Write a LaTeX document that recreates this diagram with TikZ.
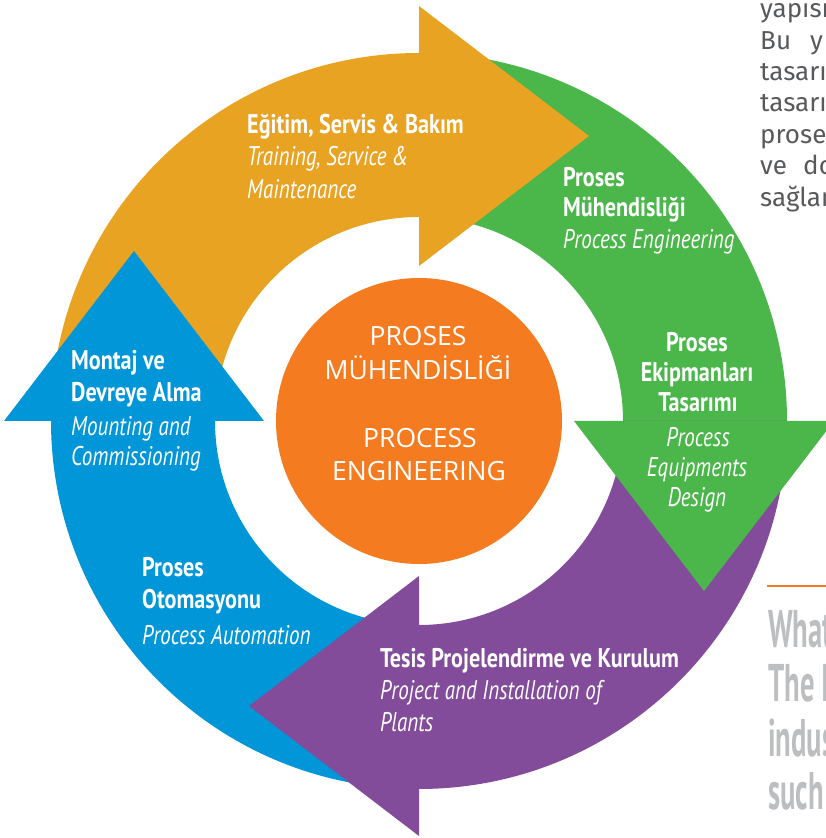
\documentclass[tikz,border=0pt]{standalone}
\usepackage{fontspec}
\usetikzlibrary{calc}
\newfontfamily\boldfont[FakeStretch=0.82]{PT Sans}
\newfontfamily\itfont[FakeStretch=0.78]{PT Sans}
\newfontfamily\ctrfont{Open Sans}
\newfontfamily\parafont{Fira Sans}
\newfontfamily\bigfont[FakeStretch=0.54]{PT Sans}
\definecolor{arrOrange}{RGB}{233,163,35}
\definecolor{arrGreen}{RGB}{75,182,74}
\definecolor{arrPurple}{RGB}{130,76,155}
\definecolor{arrBlue}{RGB}{0,150,216}
\definecolor{hubOrange}{RGB}{244,123,32}
\definecolor{paraGray}{RGB}{88,89,91}
\definecolor{bigGray}{RGB}{189,190,192}
\tikzset{
  boldlbl/.style={text=white, inner sep=0pt, font=\boldfont\bfseries\fontsize{27}{32}\selectfont},
  itlbl/.style={text=white, inner sep=0pt, font=\itfont\itshape\fontsize{27}{32}\selectfont},
  ctrlbl/.style={text=white, inner sep=0pt, anchor=base, font=\ctrfont\fontsize{26.5}{32}\selectfont},
  paralbl/.style={text=paraGray, inner sep=0pt, anchor=base west, font=\parafont\fontsize{26}{32}\selectfont},
  biglbl/.style={text=bigGray, inner sep=0pt, anchor=base west, font=\bigfont\bfseries\fontsize{53}{54}\selectfont},
}
\begin{document}
\begin{tikzpicture}[x=1pt,y=1pt]
\useasboundingbox (0,0) rectangle (826,838);
\clip (0,0) rectangle (826,838);
\coordinate (C) at (419,417);
% shafts
\fill[arrOrange, shift={(C)}] (180:368) arc[start angle=180,end angle=90,radius=368] -- (90:204) arc[start angle=90,end angle=180,radius=204] -- cycle;
\fill[arrGreen, shift={(C)}] (90:368) arc[start angle=90,end angle=0,radius=368] -- (0:204) arc[start angle=0,end angle=90,radius=204] -- cycle;
\fill[arrPurple, shift={(C)}] (0:368) arc[start angle=0,end angle=-90,radius=368] -- (-90:204) arc[start angle=-90,end angle=0,radius=204] -- cycle;
\fill[arrBlue, shift={(C)}] (-90:368) arc[start angle=-90,end angle=-180,radius=368] -- (-180:204) arc[start angle=-180,end angle=-90,radius=204] -- cycle;
% heads
\fill[arrOrange, shift={(C)}] (90:155) -- (90:415) -- (170,285) -- cycle;
\fill[arrGreen, shift={(C)}] (0:155) -- (0:415) -- (285,-170) -- cycle;
\fill[arrPurple, shift={(C)}] (-90:155) -- (-90:415) -- (-170,-285) -- cycle;
\fill[arrBlue, shift={(C)}] (180:155) -- (180:415) -- (-285,170) -- cycle;
% hub
\fill[hubOrange] (C) circle[radius=143];
\node[ctrlbl] (c1) at (418,492) {PROSES};
\node[ctrlbl] (c2) at (418,458) {MÜHENDİSLİĞİ};
\node[ctrlbl] (c3) at (420,390) {PROCESS};
\node[ctrlbl] (c4) at (419,357) {ENGINEERING};
% orange labels
\node[boldlbl, anchor=base west] (o1) at (247,704) {Eğitim, Servis \& Bakım};
\node[itlbl, anchor=base west] (o2) at (247,672) {Training, Service \&};
\node[itlbl, anchor=base west] (o3) at (247,639) {Maintenance};
% green upper
\node[boldlbl, anchor=base west] (g1) at (563,651) {Proses};
\node[boldlbl, anchor=base west] (g2) at (563,621) {Mühendisliği};
\node[itlbl, anchor=base west] (g3) at (563,589) {Process Engineering};
% green lower
\node[boldlbl, anchor=base] (h1) at (697,486) {Proses};
\node[boldlbl, anchor=base] (h2) at (697,456) {Ekipmanları};
\node[boldlbl, anchor=base] (h3) at (698,426) {Tasarımı};
\node[itlbl, anchor=base] (h4) at (698,391) {Process};
\node[itlbl, anchor=base] (h5) at (697,361) {Equipments};
\node[itlbl, anchor=base] (h6) at (697,331) {Design};
% blue upper
\node[boldlbl, anchor=base west] (b1) at (71,468) {Montaj ve};
\node[boldlbl, anchor=base west] (b2) at (71,436) {Devreye Alma};
\node[itlbl, anchor=base west] (b3) at (71,402) {Mounting and};
\node[itlbl, anchor=base west] (b4) at (71,372) {Commissioning};
% blue lower
\node[boldlbl, anchor=base west] (a1) at (142,261) {Proses};
\node[boldlbl, anchor=base west] (a2) at (142,229) {Otomasyonu};
\node[itlbl, anchor=base west] (a3) at (142,193) {Process Automation};
% purple
\node[boldlbl, anchor=base west] (p1) at (380,170) {Tesis Projelendirme ve Kurulum};
\node[itlbl, anchor=base west] (p2) at (380,138) {Project and Installation of};
\node[itlbl, anchor=base west] (p3) at (380,106) {Plants};
% right paragraph
\node[paralbl] (t1) at (760,820.5) {yapısı};
\node[paralbl] (t2) at (760,788.5) {Bu};
\node[paralbl] (t2b) at (810,788.5) {y};
\node[paralbl] (t3) at (760,757.5) {tasarı};
\node[paralbl] (t4) at (760,726.5) {tasarı};
\node[paralbl] (t5) at (760,694.5) {prose};
\node[paralbl] (t6) at (760,663.5) {ve};
\node[paralbl] (t6b) at (803,663.5) {do};
\node[paralbl] (t7) at (760,631.5) {sağlan};
% rule and big text
\coordinate (r1) at (767,252);
\coordinate (r2) at (830,252);
\draw[hubOrange, line width=2.2pt] (r1) -- (r2);
\node[biglbl] (w1) at (768,190) {What};
\node[biglbl] (w2) at (768,136) {The I};
\node[biglbl] (w3) at (768,81) {indus};
\node[biglbl] (w4) at (768,28) {such};
\end{tikzpicture}
\end{document}
